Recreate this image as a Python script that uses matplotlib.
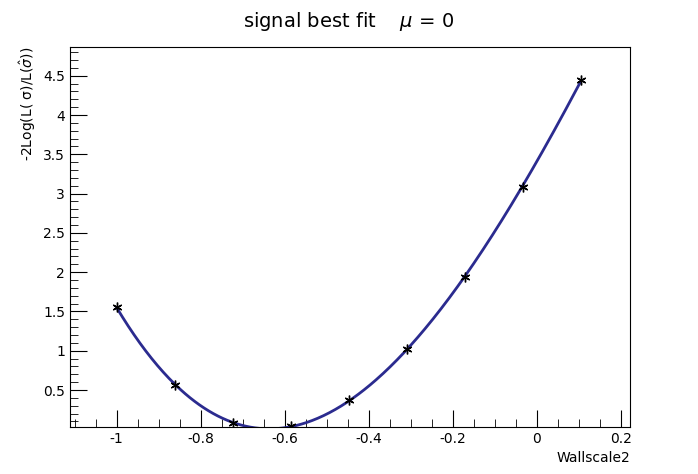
import numpy as np
import matplotlib
matplotlib.use("Agg")
import matplotlib.pyplot as plt
from matplotlib.ticker import MultipleLocator

x = [-1.0, -0.862, -0.724, -0.586, -0.448, -0.310, -0.172, -0.034, 0.104]
y = [1.56, 0.56, 0.08, 0.04, 0.37, 1.02, 1.94, 3.08, 4.44]

fig = plt.figure(figsize=(6.98, 4.74), dpi=100)
ax = fig.add_axes([70/698, 1-426.7/474, 560/698, 380/474])
c = np.polyfit(x, y, 3)
xs = np.linspace(x[0], x[-1], 400)
ax.plot(xs, np.polyval(c, xs), color="#2b2b8f", lw=2)
ax.plot(x, y, ls="none", marker=(6, 2, 0), color="black", ms=7, mew=1)
ax.set_xlim(-1.111, 0.2213)
ax.set_ylim(0.033, 4.87)
ax.xaxis.set_major_locator(MultipleLocator(0.2))
ax.xaxis.set_minor_locator(MultipleLocator(0.05))
ax.yaxis.set_major_locator(MultipleLocator(0.5))
ax.yaxis.set_minor_locator(MultipleLocator(0.1))
ax.tick_params(which="both", direction="in", labelsize=10)
ax.tick_params(which="major", length=12)
ax.tick_params(which="minor", length=6)
ax.xaxis.set_major_formatter(plt.FuncFormatter(lambda v, p: f"{v:g}" if abs(v) > 1e-9 else "0"))
ax.yaxis.set_major_formatter(plt.FuncFormatter(lambda v, p: f"{v:g}"))
fig.text(0.5, 0.955, "signal best fit    $\\mu$ = 0", ha="center", va="center", fontsize=14)
ax.set_xlabel("Wallscale2", fontsize=10, loc="right")
ax.set_ylabel("-2Log(L( σ)/L($\\hat{\\sigma}$))", fontsize=10, loc="top")
fig.savefig("out.png", dpi=100)
